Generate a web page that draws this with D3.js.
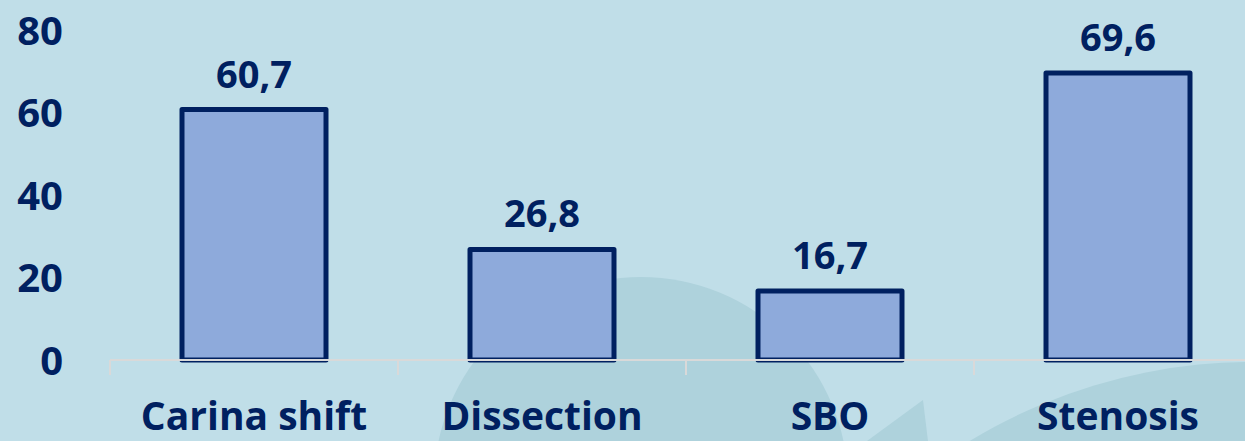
<!DOCTYPE html>
<html>
<head>
<meta charset="utf-8">
<script src="https://cdn.jsdelivr.net/npm/d3@7"></script>
<style>
  body { margin: 0; background: #c0dee8; }
  svg { display: block; }
</style>
</head>
<body>
<div id="chart"></div>
<script>
const categories = ['Carina shift', 'Dissection', 'SBO', 'Stenosis']
const values = [60.7, 26.8, 16.7, 69.6]
const valueLabels = ['60,7', '26,8', '16,7', '69,6']
const yTicks = [0, 20, 40, 60, 80]

const width = 1245
const height = 441
const navy = '#002060'
const fontFamily = '"Open Sans", "Noto Sans", sans-serif'

const svg = d3.select('#chart').append('svg')
    .attr('width', width)
    .attr('height', height)

// background with the faint round shapes behind the plot
svg.append('rect')
    .attr('width', width)
    .attr('height', height)
    .attr('fill', '#c0dee8')

const deco = svg.append('g').attr('fill', '#aed2dc')
deco.append('circle').attr('cx', 641).attr('cy', 484).attr('r', 207)
deco.append('circle').attr('cx', 1252).attr('cy', 906).attr('r', 544)
deco.append('path').attr('d', 'M867,441 L923,400 L928,441 Z')

const x = d3.scaleBand()
    .domain(categories)
    .range([110, 1262])
    .paddingInner(0.5)
    .paddingOuter(0.25)

const y = d3.scaleLinear()
    .domain([0, 80])
    .range([360, 30])

// y axis: labels only
const yAxis = svg.append('g')
    .attr('transform', 'translate(63,0)')
    .call(d3.axisLeft(y).tickValues(yTicks).tickSize(0).tickPadding(0))
yAxis.select('.domain').remove()
yAxis.selectAll('text')
    .attr('dy', '0.36em')
    .attr('fill', navy)
    .attr('font-family', fontFamily)
    .attr('font-weight', 'bold')
    .attr('font-size', 40)

// bars
svg.append('g')
    .selectAll('rect')
    .data(values)
    .enter()
    .append('rect')
    .attr('x', (d, i) => x(categories[i]))
    .attr('y', d => y(d))
    .attr('width', x.bandwidth())
    .attr('height', d => y(0) - y(d))
    .attr('fill', '#8eaadb')
    .attr('stroke', navy)
    .attr('stroke-width', 5)
    .attr('stroke-linejoin', 'round')

// value labels
svg.append('g')
    .selectAll('text')
    .data(values)
    .enter()
    .append('text')
    .text((d, i) => valueLabels[i])
    .attr('x', (d, i) => x(categories[i]) + x.bandwidth() / 2)
    .attr('y', d => y(d) - 22)
    .attr('text-anchor', 'middle')
    .attr('fill', navy)
    .attr('font-family', fontFamily)
    .attr('font-weight', 'bold')
    .attr('font-size', 38)

// x axis: line, ticks between categories, labels
const half = (x.step() - x.bandwidth()) / 2
const bounds = categories.map(c => x(c) - half).concat([x(categories[categories.length - 1]) + x.bandwidth() + half])

const xAxis = svg.append('g')
xAxis.append('line')
    .attr('x1', bounds[0])
    .attr('x2', bounds[bounds.length - 1])
    .attr('y1', y(0))
    .attr('y2', y(0))
    .attr('stroke', '#d9d9d9')
    .attr('stroke-width', 2)
xAxis.selectAll('.tick-mark')
    .data(bounds)
    .enter()
    .append('line')
    .attr('x1', d => d)
    .attr('x2', d => d)
    .attr('y1', y(0))
    .attr('y2', y(0) + 15)
    .attr('stroke', '#d9d9d9')
    .attr('stroke-width', 2)

const xLabels = svg.append('g')
    .attr('transform', 'translate(0,' + y(0) + ')')
    .call(d3.axisBottom(x).tickSize(0))
xLabels.select('.domain').remove()
xLabels.selectAll('text')
    .attr('y', 70)
    .attr('dy', null)
    .attr('fill', navy)
    .attr('font-family', fontFamily)
    .attr('font-weight', 'bold')
    .attr('font-size', 39)
</script>
</body>
</html>
